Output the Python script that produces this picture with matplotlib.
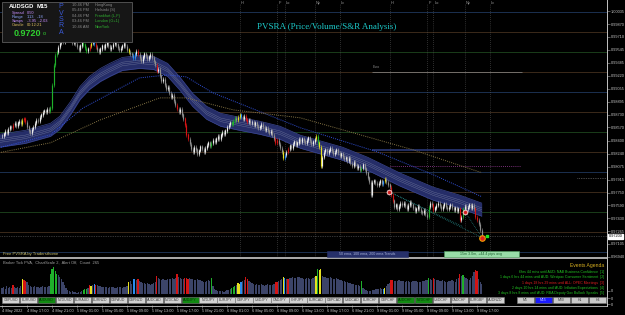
import numpy as np
import matplotlib.pyplot as plt
from matplotlib.patches import Rectangle
from matplotlib.transforms import blended_transform_factory

plt.rcParams['font.family'] = ['Liberation Sans', 'DejaVu Sans']

# AUDSGD M15 closes (one per bar)
closes = [
    0.9846, 0.9849, 0.9852, 0.9850, 0.9855, 0.9858, 0.9856, 0.9860, 0.9862, 0.9859, 0.9863, 0.9865,
    0.9861, 0.9866, 0.9868, 0.9864, 0.9858, 0.9853, 0.9850, 0.9855, 0.9857, 0.9862, 0.9866, 0.9865,
    0.9870, 0.9873, 0.9876, 0.9878,
    0.9877, 0.9880, 0.9878, 0.9882, 0.9910, 0.9935, 0.9948,
    0.9952, 0.9958, 0.9963, 0.9968, 0.9965, 0.9970, 0.9974, 0.9969, 0.9972, 0.9967, 0.9963, 0.9966,
    0.9962, 0.9958, 0.9955, 0.9960, 0.9964, 0.9961, 0.9957, 0.9953, 0.9956, 0.9959, 0.9963, 0.9966,
    0.9962, 0.9958, 0.9955, 0.9952, 0.9956, 0.9960, 0.9957, 0.9961, 0.9964, 0.9960, 0.9956, 0.9958,
    0.9962, 0.9965, 0.9961, 0.9957, 0.9954, 0.9957, 0.9960, 0.9963, 0.9959, 0.9955, 0.9952, 0.9950,
    0.9948, 0.9945, 0.9950, 0.9953, 0.9949, 0.9944, 0.9941, 0.9946, 0.9950, 0.9947, 0.9943, 0.9946,
    0.9949, 0.9945, 0.9940,
    0.9935, 0.9928, 0.9930, 0.9922, 0.9915, 0.9918, 0.9910, 0.9905, 0.9908,
    0.9900, 0.9895, 0.9898, 0.9890, 0.9885, 0.9880, 0.9876, 0.9880, 0.9873, 0.9868, 0.9860, 0.9848,
    0.9842, 0.9836, 0.9830, 0.9826, 0.9832, 0.9829, 0.9824, 0.9828, 0.9833, 0.9830, 0.9826, 0.9831, 0.9835,
    0.9838, 0.9834, 0.9837, 0.9841, 0.9839, 0.9843, 0.9846, 0.9843, 0.9848, 0.9851, 0.9849, 0.9853, 0.9857,
    0.9860, 0.9863, 0.9861, 0.9865, 0.9869, 0.9866, 0.9870, 0.9873, 0.9870, 0.9868, 0.9871, 0.9867, 0.9864,
    0.9866, 0.9862, 0.9864, 0.9860, 0.9863, 0.9859, 0.9856, 0.9858, 0.9861, 0.9857, 0.9854, 0.9856,
    0.9853, 0.9850, 0.9852,
    0.9847, 0.9843, 0.9838, 0.9841, 0.9836, 0.9831, 0.9826, 0.9818, 0.9822, 0.9826, 0.9830,
    0.9834, 0.9831, 0.9836, 0.9839, 0.9835, 0.9838, 0.9842, 0.9839, 0.9843, 0.9840, 0.9837, 0.9841,
    0.9844, 0.9840, 0.9836, 0.9839, 0.9842, 0.9846, 0.9838,
    0.9832, 0.9808, 0.9820, 0.9826, 0.9829, 0.9825, 0.9828, 0.9831, 0.9827, 0.9823, 0.9826, 0.9829,
    0.9825, 0.9821, 0.9824, 0.9820, 0.9817, 0.9819,
    0.9815, 0.9818, 0.9812, 0.9809, 0.9813, 0.9810, 0.9806, 0.9808, 0.9803, 0.9806, 0.9810, 0.9805,
    0.9800, 0.9794, 0.9788, 0.9772, 0.9788, 0.9790, 0.9787,
    0.9784, 0.9787, 0.9790, 0.9786, 0.9789, 0.9792, 0.9788, 0.9785, 0.9782,
    0.9772, 0.9765, 0.9757, 0.9760, 0.9754, 0.9758, 0.9762, 0.9759,
    0.9762, 0.9758, 0.9755, 0.9759, 0.9763, 0.9760, 0.9756, 0.9752, 0.9755, 0.9758, 0.9754, 0.9751,
    0.9749, 0.9753, 0.9748, 0.9744, 0.9757, 0.9762,
    0.9760, 0.9753, 0.9756, 0.9759, 0.9762, 0.9758, 0.9755, 0.9758, 0.9761, 0.9757, 0.9754, 0.9757,
    0.9760, 0.9756, 0.9753, 0.9756, 0.9752, 0.9755, 0.9740,
    0.9744, 0.9755, 0.9758, 0.9754, 0.9757, 0.9760, 0.9756, 0.9759, 0.9755,
    0.9744, 0.9740, 0.9735, 0.9728, 0.9720,
]

# broker tick volume per bar
volumes = [
    60, 70, 55, 80, 65, 70, 60, 90, 75, 65, 70, 60,
    80, 150, 140, 130, 120, 90, 80, 75, 70, 80, 75, 70, 65, 75, 80, 70,
    70, 75, 80, 200, 250, 270, 230,
    200, 190, 170, 150, 120, 90, 60, 40, 30, 25, 30, 20,
    20, 15, 20, 25, 30, 40, 50, 55, 60, 90, 80, 90, 100, 95, 90, 85, 80, 75, 70, 75,
    70, 65, 70, 75, 70, 65, 60, 70, 75, 70, 65, 70, 75, 80, 120, 130,
    100, 150, 150, 140, 150, 130, 120, 110, 115, 105, 110, 100, 95, 100, 110,
    120, 180, 160, 150, 140, 150, 145, 140, 150,
    150, 155, 160, 150, 165, 200, 170, 160, 155, 150, 160, 165,
    150, 160, 155, 150, 145, 140, 150, 145, 140, 130, 125, 120, 130,
    140, 130, 160, 80, 50, 40, 35, 30, 35, 30, 25, 30, 40,
    45, 50, 60, 70, 80, 90, 110, 100, 120, 130, 140, 170, 150,
    130, 120, 110, 100, 95, 100, 90, 95, 100, 90, 85, 95, 100, 95, 90,
    95, 100, 120, 125, 130, 140, 150, 170, 160, 155, 150,
    160, 165, 170, 160, 165, 170, 175, 165, 160, 155, 150, 160, 165, 155, 150, 160, 170, 180, 250,
    240, 250, 180, 170, 175, 165, 160, 170, 165, 155, 150, 160, 155, 145, 140, 135, 130, 125,
    120, 115, 110, 105, 100, 95, 90, 95, 85, 130, 60, 50,
    40, 35, 30, 35, 40, 45, 50,
    50, 55, 60, 50, 50, 60, 80, 100, 110,
    140, 145, 130, 135, 130, 140, 135, 130,
    130, 125, 130, 135, 125, 120, 130, 135, 130, 125, 120, 125, 130, 135, 140, 145, 160, 150,
    140, 160, 150, 145, 140, 130, 135, 140, 130, 125, 120, 130, 135, 140, 130, 125, 150, 160, 200,
    180, 190, 170, 160, 150, 140, 160, 180, 220,
    240, 230, 150, 120, 100,
]

# PVSRA climax / rising-volume bars
climax = {
    7: 'red', 13: 'yellow', 14: 'red', 15: 'red',
    31: 'green', 32: 'green', 33: 'green', 34: 'green', 35: 'green',
    52: 'green', 53: 'green', 54: 'green', 56: 'red', 57: 'yellow', 59: 'blue', 60: 'red',
    81: 'yellow', 84: 'blue', 85: 'blue', 87: 'red',
    99: 'red', 112: 'red', 117: 'red', 118: 'red', 119: 'red',
    134: 'green', 147: 'green', 148: 'green', 149: 'green', 151: 'yellow', 152: 'yellow',
    153: 'blue', 156: 'red', 157: 'red',
    175: 'red', 176: 'red', 180: 'yellow', 181: 'blue', 183: 'red',
    201: 'yellow', 202: 'green', 203: 'yellow', 204: 'yellow',
    230: 'green', 244: 'blue', 245: 'yellow', 249: 'red', 250: 'red',
    273: 'green', 276: 'red', 293: 'red', 295: 'green', 303: 'red', 304: 'red',
}
pvsra_colors = {'red': '#d41414', 'green': '#1fb02a', 'blue': '#2a8cf0', 'yellow': '#e6e020'}

# 50 ema band, 100 ema, 200 ema
band_idx = [-2, 15, 31, 37, 44, 50, 56, 63, 69, 77, 88, 97, 106, 114, 122, 131, 140, 152,
            165, 178, 191, 218, 234, 255, 276, 293, 307]
band_mid = [0.98402, 0.98452, 0.98540, 0.98628, 0.98817, 0.99005, 0.99131, 0.99231, 0.99294,
            0.99369, 0.99395, 0.99382, 0.99294, 0.99118, 0.98917, 0.98754, 0.98666, 0.98616,
            0.98566, 0.98503, 0.98390, 0.98239, 0.98113, 0.97912, 0.97737, 0.97636, 0.97536]
ema100_idx = [-2, 31, 52, 88, 106, 118, 135, 159, 191, 240, 276, 307]
ema100 = [0.98314, 0.98478, 0.98817, 0.99194, 0.99231, 0.99206, 0.99005, 0.98817, 0.98566,
          0.98264, 0.97975, 0.97699]
ema200_idx = [-2, 31, 63, 101, 118, 148, 191, 263, 307]
ema200 = [0.98252, 0.98377, 0.98666, 0.98942, 0.98942, 0.98791, 0.98691, 0.98289, 0.98001]

levels = [1.00022, 0.99771, 0.99520, 0.99269, 0.99018, 0.98767, 0.98515, 0.98264, 0.98013,
          0.97762, 0.97511, 0.97259, 0.97008]
level_colors = ['#1b3050', '#3b2a1a', '#1a3d1a', '#3b2a1a']

session_idx = [152, 176, 181, 200, 216, 248, 272, 276, 296, 312]
session_lbl = ['H', 'F', 'Lo', 'Ny', 'Lc', 'H', 'F', 'Lo', 'Ny', 'Lc']

price_labels = ['1.00035', '0.99870', '0.99710', '0.99545', '0.99385', '0.99220', '0.99055',
                '0.98895', '0.98730', '0.98570', '0.98400', '0.98240', '0.98075', '0.97915',
                '0.97750', '0.97590', '0.97430', '0.97265', '0.97105', '0.96940']
last_price = 0.97200

date_idx = list(range(0, 305, 16))
date_labels = ['4 May 2022', '4 May 17:00', '4 May 21:00', '5 May 01:00', '5 May 05:00',
               '5 May 09:00', '5 May 13:00', '5 May 17:00', '5 May 21:00', '6 May 01:00',
               '6 May 05:00', '6 May 09:00', '6 May 13:00', '6 May 17:00', '6 May 21:00',
               '9 May 01:00', '9 May 05:00', '9 May 09:00', '9 May 13:00', '9 May 17:00']

symbols = ['GBPUSD', 'EURUSD', 'AUDUSD', 'NZDUSD', 'EURAUD', 'EURNZD', 'GBPAUD', 'GBPNZD',
           'AUDCAD', 'NZDCAD', 'AUDJPY', 'NZDJPY', 'EURJPY', 'GBPJPY', 'USDJPY', 'CADJPY',
           'CHFJPY', 'EURCAD', 'GBPCAD', 'USDCAD', 'EURCHF', 'GBPCHF', 'AUDCHF', 'NZDCHF',
           'USDCHF', 'CADCHF', 'EURGBP', 'AUDNZD']
green_symbols = ['AUDUSD', 'AUDJPY', 'AUDCHF', 'NZDCHF']
timeframes = ['M5', 'M15', 'M30', 'H1', 'H4']

events = ['6hrs 44 mins until AUD: NAB Business Confidence  [1]',
          '1 days 6 hrs 44 mins until AUD: Westpac Consumer Sentiment  [2]',
          '1 days 18 hrs 29 mins until ALL: OPEC Meetings  [3]',
          '2 days 10 hrs 14 mins until AUD: Inflation Expectations  [4]',
          '3 days 8 hrs 8 mins until AUD: RBA Deputy Gov Bullock Speaks  [5]']
event_colors = ['#22c422', '#22c422', '#e02020', '#22c422', '#22c422']

clock_times = ['10:46 PM', '05:46 PM', '04:46 PM', '03:46 PM', '10:46 AM']
clock_cities = ['HongKong', 'Helsinki (S)', 'Frankfurt (L,F)', 'London (G+1)', 'NewYork']
clock_colors = ['#8a8a8a', '#8a8a8a', '#30b030', '#30b030', '#30b030']

# ---------------------------------------------------------------
fig = plt.figure(figsize=(6.25, 3.15), dpi=100, facecolor='black')
ax = fig.add_axes([0, 58 / 315, 607 / 625, 254 / 315], facecolor='black')
axv = fig.add_axes([0, 10 / 315, 607 / 625, 46 / 315], facecolor='black', sharex=ax)
ax.set_xlim(-1.28, 387.2)
ax.set_ylim(0.96945, 1.00136)
axv.set_ylim(-110, 350)

n = len(closes)
idx = np.arange(n)
c = np.array(closes)
o = np.r_[c[0], c[:-1]]
lo = np.minimum(o, c)
hi = np.maximum(o, c)
cols = []
for i in range(n):
    if i in climax:
        cols.append(pvsra_colors[climax[i]])
    elif c[i] >= o[i]:
        cols.append('#ececec')
    else:
        cols.append('#8e8e8e')

# levels and session lines
for k, lv in enumerate(levels):
    ax.axhline(lv, color=level_colors[k % 4], lw=0.7, zorder=1)
for si, sl in zip(session_idx, session_lbl):
    ax.axvline(si, color='#5a5a5a', lw=0.5, ls=(0, (1, 2)), zorder=1)
    ax.text(si + 0.8, 1.0, sl, transform=blended_transform_factory(ax.transData, ax.transAxes),
            fontsize=2.8, color='#9a9a9a', va='center', ha='left', clip_on=False)
ax.axhline(last_price, color='#6a6a6a', lw=0.5, ls=(0, (1, 1.5)), zorder=1)

# objects on the right part
ax.hlines(0.99269, 236.8, 332.8, color='#8a8a8a', lw=0.5, zorder=2)
ax.text(237, 0.99300, 'Euro', fontsize=2.4, color='#8a8a8a', va='bottom')
ax.hlines(0.98283, 236.8, 331.5, color='#2a3878', lw=1.2, zorder=2)
ax.hlines(0.98088, 248, 331.5, color='#a040a0', lw=0.6, ls=(0, (1, 1.5)), zorder=2)
ax.hlines(0.97937, 368, 387, color='#8a8a8a', lw=0.5, ls=(0, (1, 1.5)), zorder=2)

# ema band
bm = np.array(band_mid)
ax.fill_between(band_idx, bm - 0.00082, bm + 0.00082, color='#252d68', lw=0, zorder=2)
ax.plot(band_idx, bm - 0.00082, color='#3a4690', lw=0.5, zorder=2)
ax.plot(band_idx, bm + 0.00082, color='#3a4690', lw=0.5, zorder=2)
for off in (-0.00022, 0.0, 0.00022):
    ax.plot(band_idx, bm + off, color='#6a7298', lw=0.3, zorder=2)
ax.plot(ema100_idx, ema100, color='#3050d8', lw=0.7, ls=(0, (1, 1.2)), zorder=3)
ax.plot(ema200_idx, ema200, color='#857545', lw=0.7, ls=(0, (1, 1.2)), zorder=3)

# candles
wick = 0.00025
ax.vlines(idx, lo - wick, hi + wick, colors=cols, lw=0.45, zorder=4)
ax.vlines(idx, lo, hi + 0.00004, colors=cols, lw=0.85, zorder=4)

# trend lines and markers
tl = '#2a9a9a'
ax.plot([247.7, 307.2], [0.97762, 0.97184], color=tl, lw=0.5, ls=(0, (1, 1.5)), zorder=3)
ax.plot([247.7, 295.0], [0.97762, 0.97322], color=tl, lw=0.5, ls=(0, (1, 1.5)), zorder=3)
ax.plot([296.3, 307.2], [0.97511, 0.97184], color=tl, lw=0.5, ls=(0, (1, 1.5)), zorder=3)
ax.scatter([247.7, 296.3], [0.97762, 0.97511], s=14, c='#f4b8b8', edgecolors='#f4d0d0',
           lw=0.3, zorder=6)
ax.scatter([247.7, 296.3], [0.97762, 0.97511], s=2, c='#d02020', zorder=7)
ax.scatter([307.2], [0.97184], s=16, c='#e02020', edgecolors='#f0a000', lw=0.8, zorder=6)
ax.scatter([310.6], [0.97209], s=3, c='#20e020', marker='s', zorder=6)

# price axis
ax.yaxis.tick_right()
ax.set_yticks([float(v) for v in price_labels])
ax.set_yticklabels(price_labels)
ax.tick_params(axis='y', length=2, width=0.4, color='#a0a0a0', pad=1, labelsize=2.8,
               labelcolor='#c8c8c8')
ax.tick_params(axis='x', bottom=False, labelbottom=False)
ax.text(1.003, last_price, '0.97200', transform=blended_transform_factory(ax.transAxes, ax.transData),
        fontsize=2.8, color='black', va='center', ha='left', clip_on=False,
        bbox=dict(boxstyle='square,pad=0.15', fc='white', ec='white'))
for s in ax.spines.values():
    s.set_visible(False)

# volume window
vcols = [pvsra_colors[climax[i]] if i in climax else '#3c4468' for i in range(n)]
axv.bar(idx, volumes, width=0.8, color=vcols, lw=0)
axv.yaxis.tick_right()
axv.set_yticks([30, -40, -100])
axv.set_yticklabels(['0', '0', '0'])
axv.tick_params(axis='y', length=2, width=0.4, color='#a0a0a0', pad=1, labelsize=2.8,
                labelcolor='#c8c8c8')
axv.set_xticks(date_idx)
axv.set_xticklabels(date_labels)
axv.tick_params(axis='x', length=2, width=0.4, color='#a0a0a0', pad=1, labelsize=2.8,
                labelcolor='#c8c8c8', labelbottom=True)
for lbl in axv.get_xticklabels():
    lbl.set_ha('left')
for s in axv.spines.values():
    s.set_visible(False)

# ---- overlay in screen pixels ----
ov = fig.add_axes([0, 0, 1, 1], zorder=10)
ov.set_xlim(0, 625)
ov.set_ylim(315, 0)
ov.axis('off')
ov.patch.set_alpha(0)

ov.plot([607.3, 607.3], [0, 306], color='#c4c4c4', lw=0.7)
ov.add_patch(Rectangle((0, 257.4), 607, 1.8, fc='#a8a8a8', ec='none'))
ov.plot([0, 607.3], [305.5, 305.5], color='#c4c4c4', lw=0.6)

ov.text(327, 27, 'PVSRA (Price/Volume/S&R Analysis)', color='#1cc8c8', fontsize=6.5,
        family='Liberation Serif', ha='center', va='center')

# info panel
ov.add_patch(Rectangle((2, 2), 130, 40, fc='#161616', ec='#5a5a5a', lw=0.6))
ov.text(9, 6.5, 'AUDSGD', color='white', fontsize=4.2, fontweight='bold', va='center')
ov.text(37, 6.5, 'M15', color='white', fontsize=4.2, fontweight='bold', va='center')
rows = [('Spread', '0.50', '#c890ff'), ('Range', '113   -18', '#90a8ff'),
        ('Swaps', '-3.95  -2.03', '#c890ff'), ('Candle', '00:12:21', '#e0c060')]
for k, (name, val, col) in enumerate(rows):
    y = 13 + 4.1 * k
    ov.text(12, y, name, color=col, fontsize=2.9, va='center')
    ov.text(27, y, val, color=col, fontsize=2.9, va='center')
ov.text(14, 33, '0.9720', color='#30d030', fontsize=6.5, fontweight='bold', va='center')
ov.text(42.5, 33.5, 'o', color='#30d030', fontsize=4, va='center')
for k, ch in enumerate('PVSRA'):
    ov.text(61, 7 + 6.3 * k, ch, color='#3a5ad8', fontsize=5, ha='center', va='center')
for k in range(5):
    y = 5 + 5.4 * k
    ov.text(72, y, clock_times[k], color='#8a8a8a', fontsize=2.8, va='center')
    ov.text(95, y, clock_cities[k], color=clock_colors[k], fontsize=2.8, va='center')

# labels on chart bottom
ov.text(3, 254, 'Free PVSRA by Tradersthome', color='#c8c070', fontsize=3, va='center')
ov.add_patch(Rectangle((327, 250.8), 81, 6.4, fc='#26306a', ec='#26306a', lw=0.4))
ov.text(367.5, 254, '50 ema, 100 ema, 200 ema Trends', color='#aab4d8', fontsize=2.6,
        ha='center', va='center')
ov.add_patch(Rectangle((444, 250.8), 75, 6.4, fc='#98dca8', ec='#50a060', lw=0.4))
ov.text(481.5, 254, '15m 3.0m, +44.4 pips avg', color='#206030', fontsize=2.6,
        ha='center', va='center')

# volume window texts
ov.text(3, 262.5, 'Broker Tick PVA,  ChartScale 2,  Alert Off,  Count  265', color='#a0a0a0',
        fontsize=2.9, va='center')
ov.text(604, 266, 'Events Agenda', color='#d8b020', fontsize=3.6, ha='right', va='center')
for k, (ev, ec) in enumerate(zip(events, event_colors)):
    ov.text(604, 272 + 5.3 * k, ev, color=ec, fontsize=2.5, ha='right', va='center')

# symbol buttons
for k, s in enumerate(symbols):
    x0 = 2 + 17.95 * k
    g = s in green_symbols
    ov.add_patch(Rectangle((x0, 296.6), 17.4, 6.8, fc='#128a12' if g else '#d2d2d2',
                           ec='#7a7a7a', lw=0.4))
    ov.text(x0 + 8.7, 300, s, color='#063006' if g else '#404040', fontsize=2.5,
            ha='center', va='center')
for k, tf in enumerate(timeframes):
    x0 = 517 + 18 * k
    sel = tf == 'M15'
    ov.add_patch(Rectangle((x0, 296.6), 17, 6.8, fc='#1a1aff' if sel else '#cacaca',
                           ec='#7a7a7a', lw=0.4))
    ov.text(x0 + 8.5, 300, tf, color='#d0d0ff' if sel else '#404040', fontsize=2.5,
            ha='center', va='center')

fig.savefig('out.png', dpi=100, facecolor='black')
